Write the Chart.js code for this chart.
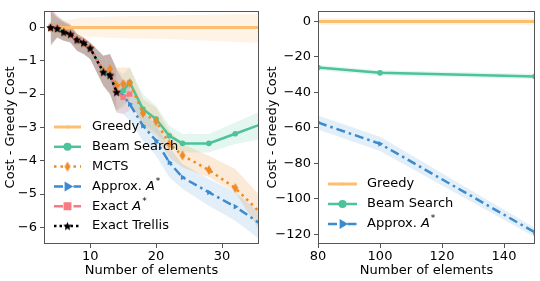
<!DOCTYPE html>
<html>
<head>
<meta charset="utf-8">
<script src="https://cdn.jsdelivr.net/npm/chart.js@4.4.1/dist/chart.umd.min.js"></script>
<style>
    html, body { margin: 0; padding: 0; background: #fff; }
    #wrap { position: relative; width: 540px; height: 281px; }
    .panel { position: absolute; top: 0; height: 281px; }
    #left { left: 0; width: 265px; }
    #right { left: 265px; width: 275px; }
</style>
</head>
<body>
<div id="wrap">
    <div class="panel" id="left"><canvas id="chart-left"></canvas></div>
    <div class="panel" id="right"><canvas id="chart-right"></canvas></div>
</div>
<script>
// ===========================================
// DATA - left panel (small instances)
// ===========================================
const leftX = [4, 5, 6, 7, 8, 9, 10, 12, 13, 14, 15, 16, 18, 20, 22, 24, 28, 32, 36];
const leftXTicks = [10, 20, 30];
const leftYTicks = [-6, -5, -4, -3, -2, -1, 0];

const greedyL   = [0, 0, 0, 0, 0, 0, 0, 0, 0, 0, 0, 0, 0, 0, 0, 0, 0, 0, 0];
const greedyLUp = [0.1, 0.15, 0.2, 0.25, 0.28, 0.3, 0.3, 0.32, 0.33, 0.33, 0.34, 0.34, 0.35, 0.35, 0.36, 0.37, 0.38, 0.39, 0.4];
const greedyLLo = [-0.1, -0.15, -0.2, -0.22, -0.25, -0.27, -0.28, -0.3, -0.31, -0.32, -0.32, -0.33, -0.33, -0.34, -0.35, -0.37, -0.4, -0.44, -0.47];

const beamL   = [0, -0.03, -0.14, -0.2, -0.37, -0.46, -0.62, -1.34, -1.43, -1.94, -1.9, -1.65, -2.45, -2.75, -3.25, -3.48, -3.48, -3.19, -2.9];
const beamLUp = [0.5, 0.3, 0.15, 0.05, -0.2, -0.3, -0.45, -0.85, -0.8, -1.25, -1.4, -1.2, -2.0, -2.35, -2.95, -3.2, -3.2, -2.85, -2.5];
const beamLLo = [-0.5, -0.3, -0.4, -0.45, -0.7, -0.8, -0.95, -1.75, -2.0, -2.5, -2.4, -2.2, -2.9, -3.15, -3.55, -3.75, -3.75, -3.5, -3.35];

const mctsL   = [0, -0.03, -0.14, -0.2, -0.37, -0.46, -0.62, -1.3, -1.25, -1.75, -1.7, -1.67, -2.57, -2.82, -3.5, -3.84, -4.28, -4.82, -5.6];
const mctsLUp = [0.5, 0.3, 0.15, 0.05, -0.2, -0.3, -0.45, -0.85, -0.8, -1.2, -1.2, -1.2, -2.15, -2.4, -3.1, -3.5, -3.85, -4.25, -5.1];
const mctsLLo = [-0.5, -0.3, -0.4, -0.45, -0.7, -0.8, -0.95, -1.75, -2.0, -2.5, -2.3, -2.2, -3.0, -3.25, -3.9, -4.2, -4.5, -4.95, -6.2];

const approxL   = [0, -0.03, -0.14, -0.2, -0.37, -0.46, -0.62, -1.34, -1.43, -1.94, -2.05, -2.3, -2.95, -3.4, -4.05, -4.5, -4.95, -5.38, -5.92];
const approxLUp = [0.5, 0.3, 0.15, 0.05, -0.2, -0.3, -0.45, -0.85, -0.8, -1.25, -1.6, -1.8, -2.5, -2.95, -3.6, -4.1, -4.55, -4.95, -5.6];
const approxLLo = [-0.5, -0.3, -0.4, -0.45, -0.7, -0.8, -0.95, -1.75, -2.0, -2.55, -2.6, -2.8, -3.4, -3.85, -4.5, -4.85, -5.35, -5.8, -6.4];

const exactL   = [0, -0.03, -0.14, -0.2, -0.37, -0.46, -0.62, -1.34, -1.43, -1.94, -2.1, -2.0];
const exactLUp = [0.6, 0.35, 0.2, 0.1, -0.2, -0.3, -0.45, -0.85, -0.8, -1.25, -1.6, -1.55];
const exactLLo = [-0.57, -0.3, -0.4, -0.45, -0.7, -0.8, -0.95, -1.75, -2.0, -2.55, -2.6, -2.5];

const trellisL   = [0, -0.03, -0.14, -0.2, -0.37, -0.46, -0.62, -1.34, -1.43, -1.94];
const trellisLUp = [0.6, 0.35, 0.2, 0.1, -0.2, -0.3, -0.45, -0.85, -0.8, -1.25];
const trellisLLo = [-0.57, -0.3, -0.4, -0.45, -0.7, -0.8, -0.95, -1.75, -2.0, -2.55];

// ===========================================
// DATA - right panel (large instances)
// ===========================================
const rightX = [80, 100, 150];
const rightXTicks = [80, 100, 120, 140];
const rightYTicks = [-120, -100, -80, -60, -40, -20, 0];

const greedyR   = [0, 0, 0];
const greedyRUp = [1.8, 1.8, 1.8];
const greedyRLo = [-1.8, -1.8, -1.8];
const beamR   = [-26, -29, -31];
const beamRUp = [-24.5, -27.5, -29.5];
const beamRLo = [-27.5, -30.5, -32.5];
const approxR   = [-57, -69, -119];
const approxRUp = [-53, -65, -116.5];
const approxRLo = [-61, -73, -121.5];

// ===========================================
// STYLES
// ===========================================
const FONT = 'DejaVu Sans';
const FONT_SIZE = 13;
const C_GREEDY = '#fdbf6f';
const C_BEAM = '#4cc398';
const C_MCTS = '#ef8a25';
const C_APPROX = '#3a8bd0';
const C_EXACT = '#f77b80';
const C_TRELLIS = '#000000';
const AXIS = '#555555';

function rgba(hex, a) {
    const n = parseInt(hex.slice(1), 16);
    return 'rgba(' + (n >> 16) + ',' + ((n >> 8) & 255) + ',' + (n & 255) + ',' + a + ')';
}

function makeStar(r, color) {
    const c = document.createElement('canvas');
    c.width = c.height = Math.ceil(r * 2 + 2);
    const g = c.getContext('2d');
    const cx = c.width / 2, cy = c.height / 2 + 0.5;
    g.beginPath();
    for (let i = 0; i < 10; i++) {
        const rad = i % 2 === 0 ? r : r * 0.45;
        const a = -Math.PI / 2 + i * Math.PI / 5;
        g.lineTo(cx + rad * Math.cos(a), cy + rad * Math.sin(a));
    }
    g.closePath();
    g.fillStyle = color;
    g.fill();
    return c;
}

function makeThinDiamond(w, h, color) {
    const c = document.createElement('canvas');
    c.width = w + 2;
    c.height = h + 2;
    const g = c.getContext('2d');
    const cx = c.width / 2, cy = c.height / 2;
    g.beginPath();
    g.moveTo(cx, cy - h / 2);
    g.lineTo(cx + w / 2, cy);
    g.lineTo(cx, cy + h / 2);
    g.lineTo(cx - w / 2, cy);
    g.closePath();
    g.fillStyle = color;
    g.fill();
    return c;
}

const starImg = makeStar(4.5, C_TRELLIS);
const diamondImg = makeThinDiamond(6, 10, C_MCTS);

// ===========================================
// DATASET HELPERS
// ===========================================
function pts(xs, ys) {
    return ys.map((y, i) => ({ x: xs[i], y: y }));
}

function lineSet(xs, ys, s, order) {
    return {
        data: pts(xs, ys),
        borderColor: s.color,
        backgroundColor: s.color,
        borderWidth: s.width,
        borderDash: s.dash,
        pointStyle: s.point,
        pointRadius: s.radius,
        pointRotation: s.rotation || 0,
        pointBorderWidth: 0,
        pointBackgroundColor: s.color,
        fill: false,
        tension: 0,
        order: order
    };
}

function bandSets(xs, up, lo, color, alpha) {
    return [
        {
            data: pts(xs, up),
            borderWidth: 0,
            pointRadius: 0,
            backgroundColor: rgba(color, alpha),
            fill: '+1',
            order: 20
        },
        {
            data: pts(xs, lo),
            borderWidth: 0,
            pointRadius: 0,
            fill: false,
            order: 20
        }
    ];
}

const S = {
    greedy:  { color: C_GREEDY,  width: 3,   dash: [],             point: 'cross',    radius: 2 },
    beam:    { color: C_BEAM,    width: 2.5, dash: [],             point: 'circle',   radius: 2.8 },
    mcts:    { color: C_MCTS,    width: 2.5, dash: [2.5, 4],       point: diamondImg, radius: 4 },
    approx:  { color: C_APPROX,  width: 2.5, dash: [9, 4, 2.5, 4], point: 'triangle', radius: 3.3, rotation: 90 },
    exact:   { color: C_EXACT,   width: 2.5, dash: [9, 4, 2.5, 4], point: 'rect',     radius: 3.8 },
    trellis: { color: C_TRELLIS, width: 2.5, dash: [2.5, 3],       point: starImg,    radius: 4 }
};

// ===========================================
// PLUGINS
// ===========================================
function framePlugin() {
    return {
        id: 'frame',
        afterDraw(chart) {
            const a = chart.chartArea;
            const ctx = chart.ctx;
            ctx.save();
            ctx.strokeStyle = AXIS;
            ctx.lineWidth = 1;
            ctx.strokeRect(Math.round(a.left) + 0.5, Math.round(a.top) + 0.5,
                Math.round(a.right - a.left) - 1, Math.round(a.bottom - a.top) - 1);
            ctx.restore();
        }
    };
}

function drawMarker(ctx, s, x, y) {
    if (s.point instanceof HTMLCanvasElement) {
        ctx.drawImage(s.point, x - s.point.width / 2, y - s.point.height / 2);
        return;
    }
    ctx.fillStyle = s.color;
    ctx.strokeStyle = s.color;
    ctx.setLineDash([]);
    ctx.lineWidth = s.point === 'cross' ? 1 : 0;
    Chart.helpers.drawPoint(ctx, {
        pointStyle: s.point,
        radius: s.radius,
        rotation: s.rotation || 0,
        borderWidth: ctx.lineWidth
    }, x, y);
}

function legendPlugin(items, cfg) {
    return {
        id: 'insideLegend',
        afterDraw(chart) {
            const ctx = chart.ctx;
            const a = chart.chartArea;
            ctx.save();
            items.forEach((item, i) => {
                const s = S[item.key];
                const y = cfg.y + i * cfg.spacing;
                const x0 = a.left + cfg.x;
                const x1 = x0 + cfg.length;
                ctx.beginPath();
                ctx.strokeStyle = s.color;
                ctx.lineWidth = s.width;
                ctx.setLineDash(s.dash);
                ctx.moveTo(x0, y);
                ctx.lineTo(x1, y);
                ctx.stroke();
                drawMarker(ctx, s, (x0 + x1) / 2, y);

                let tx = x1 + cfg.gap;
                ctx.fillStyle = '#000';
                ctx.textBaseline = 'middle';
                ctx.textAlign = 'left';
                ctx.font = FONT_SIZE + 'px "' + FONT + '"';
                ctx.fillText(item.label, tx, y);
                if (item.astar) {
                    tx += ctx.measureText(item.label).width;
                    ctx.font = 'italic ' + FONT_SIZE + 'px "' + FONT + '"';
                    ctx.fillText('A', tx, y);
                    tx += ctx.measureText('A').width + 1;
                    ctx.font = '9px "' + FONT + '"';
                    ctx.fillText('*', tx, y - 5);
                }
            });
            ctx.restore();
        }
    };
}

// ===========================================
// SCALES
// ===========================================
function minusSign(v) {
    return String(v).replace('-', '\u2212');
}

function makeScales(xr, xTicks, yr, yTicks, yWidth, yTitlePad) {
    const tickFont = { family: FONT, size: FONT_SIZE };
    return {
        x: {
            type: 'linear',
            min: xr[0],
            max: xr[1],
            afterBuildTicks: (scale) => { scale.ticks = xTicks.map(v => ({ value: v })); },
            afterFit: (scale) => { scale.height = 37; },
            border: { display: false },
            grid: { display: true, drawOnChartArea: false, drawTicks: true, tickLength: 4, color: AXIS },
            ticks: { color: '#000', font: tickFont, padding: 1, maxRotation: 0, callback: minusSign },
            title: { display: true, text: 'Number of elements', color: '#000', font: tickFont, padding: { top: 0, bottom: 3 } }
        },
        y: {
            type: 'linear',
            min: yr[0],
            max: yr[1],
            afterBuildTicks: (scale) => { scale.ticks = yTicks.map(v => ({ value: v })); },
            afterFit: (scale) => { scale.width = yWidth; },
            border: { display: false },
            grid: { display: true, drawOnChartArea: false, drawTicks: true, tickLength: 4, color: AXIS },
            ticks: { color: '#000', font: tickFont, padding: 3, callback: minusSign },
            title: { display: true, text: 'Cost - Greedy Cost', color: '#000', font: tickFont, padding: { top: yTitlePad, bottom: 0 } }
        }
    };
}

const baseOptions = {
    responsive: true,
    maintainAspectRatio: false,
    animation: false,
    events: [],
    plugins: { legend: { display: false }, tooltip: { enabled: false } }
};

// ===========================================
// LEFT CHART
// ===========================================
const nExact = exactL.length;
const nTrellis = trellisL.length;

new Chart(document.getElementById('chart-left'), {
    type: 'line',
    data: {
        datasets: [
            lineSet(leftX, trellisL, S.trellis, 0),
            lineSet(leftX.slice(0, nExact), exactL, S.exact, 1),
            lineSet(leftX, approxL, S.approx, 2),
            lineSet(leftX, mctsL, S.mcts, 3),
            lineSet(leftX, beamL, S.beam, 4),
            lineSet(leftX, greedyL, S.greedy, 5),
            ...bandSets(leftX.slice(0, nTrellis), trellisLUp, trellisLLo, C_TRELLIS, 0.08),
            ...bandSets(leftX.slice(0, nExact), exactLUp, exactLLo, C_EXACT, 0.22),
            ...bandSets(leftX, approxLUp, approxLLo, C_APPROX, 0.15),
            ...bandSets(leftX, mctsLUp, mctsLLo, C_MCTS, 0.18),
            ...bandSets(leftX, beamLUp, beamLLo, C_BEAM, 0.15),
            ...bandSets(leftX, greedyLUp, greedyLLo, C_GREEDY, 0.18)
        ]
    },
    options: Object.assign({}, baseOptions, {
        layout: { padding: { left: 0, top: 5, right: 6, bottom: 0 } },
        scales: makeScales([3, 35.6], leftXTicks, [-6.5, 0.5], leftYTicks, 44, 3)
    }),
    plugins: [
        framePlugin(),
        legendPlugin([
            { key: 'greedy', label: 'Greedy' },
            { key: 'beam', label: 'Beam Search' },
            { key: 'mcts', label: 'MCTS' },
            { key: 'approx', label: 'Approx. ', astar: true },
            { key: 'exact', label: 'Exact ', astar: true },
            { key: 'trellis', label: 'Exact Trellis' }
        ], { x: 10, y: 127, spacing: 19.8, length: 27, gap: 11 })
    ]
});

// ===========================================
// RIGHT CHART
// ===========================================
new Chart(document.getElementById('chart-right'), {
    type: 'line',
    data: {
        datasets: [
            lineSet(rightX, approxR, S.approx, 2),
            lineSet(rightX, beamR, S.beam, 4),
            lineSet(rightX, greedyR, S.greedy, 5),
            ...bandSets(rightX, approxRUp, approxRLo, C_APPROX, 0.15),
            ...bandSets(rightX, beamRUp, beamRLo, C_BEAM, 0.15),
            ...bandSets(rightX, greedyRUp, greedyRLo, C_GREEDY, 0.18)
        ]
    },
    options: Object.assign({}, baseOptions, {
        layout: { padding: { left: 0, top: 5, right: 5, bottom: 0 } },
        scales: makeScales([80, 150], rightXTicks, [-125.5, 6], rightYTicks, 53, 0)
    }),
    plugins: [
        framePlugin(),
        legendPlugin([
            { key: 'greedy', label: 'Greedy' },
            { key: 'beam', label: 'Beam Search' },
            { key: 'approx', label: 'Approx. ', astar: true }
        ], { x: 10, y: 184, spacing: 20, length: 29, gap: 10 })
    ]
});
</script>
</body>
</html>
